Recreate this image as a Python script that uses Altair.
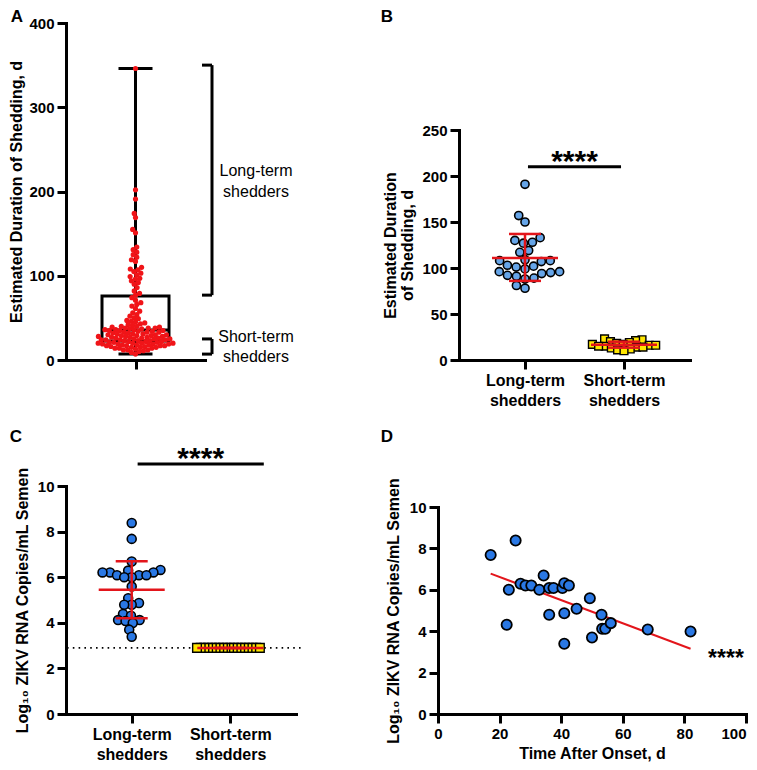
import math
import altair as alt
import pandas as pd

# ---------------- data ----------------
# Panel A: estimated duration of shedding (days), all men
A_DURATION = [346, 202, 191, 174, 169, 155, 151, 134, 131, 128, 125, 122, 119, 117,
              110, 108, 107, 105, 103, 101, 99, 97, 96, 94, 92, 90, 86, 82, 79, 77,
              74, 71, 68, 66, 64, 61, 58, 56, 54, 52, 50, 49, 47, 46, 45, 44, 43, 42,
              41, 40, 40, 39, 39, 38, 38, 38, 37, 37, 36, 36, 36,
              35, 35, 35, 34, 34, 33, 33, 33, 32, 32, 31, 31, 31, 30, 30, 30, 29, 29, 29,
              28, 28, 28, 27, 27, 27, 26, 26, 26, 25, 25, 25, 24, 24, 24, 24, 23, 23, 23,
              22, 22, 22, 21, 21, 21, 20, 20, 20, 20, 19, 19, 19, 19, 18, 18, 18, 17, 17,
              17, 17, 16, 16, 15, 15, 15, 14, 14, 14, 13, 12, 12, 12, 11, 10, 9, 7]
A_BOX = {"min": 7, "q1": 22.5, "median": 35.5, "q3": 76, "max": 346}
A_BRACKET_LABELS = [["Long-term", "shedders"], ["Short-term", "shedders"]]
A_BRACKET_LOW = [77, 7]
A_BRACKET_HIGH = [350, 25]
A_LABEL_Y = [[224, 200], [27, 3.5]]

# Panel B: duration by group
B_LONG = [191, 157, 150, 133, 130, 128, 127, 119, 117, 109, 108, 108, 107, 103,
          102, 101, 99, 96, 96, 95, 94, 92, 91, 89, 88, 81, 78]
B_SHORT = [23, 22, 21, 20, 19, 18, 17, 17, 16, 16, 15, 15, 14, 14, 13, 12, 11, 10]
B_MEAN = [111, 16.6]
B_SD_LOW = [86, 13.4]
B_SD_HIGH = [137, 19.9]
B_SIG = {"x1": 1.03, "x2": 1.97, "y": 210, "text": "****"}

# Panel C: log10 ZIKV RNA copies/mL semen by group
C_LONG = [8.38, 7.68, 6.69, 6.32, 6.29, 6.21, 6.21, 6.21, 6.09, 6.09, 6.09, 6.0, 6.0,
          5.59, 5.08, 4.87, 4.79, 4.79, 4.39, 4.31, 4.12, 4.12, 4.08, 3.99, 3.70, 3.39]
C_SHORT = [2.9] * 18
C_MEAN = [5.45, 2.9]
C_SD_LOW = [4.2, 2.9]
C_SD_HIGH = [6.7, 2.9]
C_LOD = 2.9
C_SIG = {"x1": 1.06, "x2": 2.34, "y": 10.97, "text": "****"}

# Panel D: viral load vs time after onset
D_TIME = [17.1, 25.2, 23.0, 22.3, 26.8, 28.4, 30.3, 32.9, 34.3, 36.1, 37.5, 36.1, 40.4,
          41.0, 42.5, 41.0, 41.0, 45.0, 49.3, 50.0, 53.1, 53.3, 54.3, 56.1, 68.1, 82.0]
D_LOAD = [7.68, 8.38, 6.00, 4.31, 6.29, 6.21, 6.21, 6.00, 6.69, 6.09, 6.09, 4.79, 6.09,
          6.32, 6.21, 4.87, 3.39, 5.08, 5.59, 3.70, 4.79, 4.12, 4.12, 4.39, 4.08, 3.99]
D_SIG = {"x": 93.5, "y": 2.3, "text": "****"}

CATEGORIES = ["Long-term shedders", "Short-term shedders"]

# ---------------- styling / layout ----------------
FONT = "Liberation Sans"
RED = "#f01418"
RED_LINE = "#e3151b"
BLUE_B = "#66a5e8"
BLUE_CD = "#2a78e4"
YELLOW = "#ffe600"

H1 = 337          # row 1 cell height
H2 = 228          # row 2 cell height
W1 = 230          # column 1 cell width
W2 = 308          # column 2 cell width
A_XR = [0, 139]
B_XR = [21, 252]
B_YR = [H1, 107]
C_XR = [0, W1]
D_YR = [H2, 21]

CAT_EXPR = "datum.value == 1 ? ['Long-term', 'shedders'] : ['Short-term', 'shedders']"


def swarm(values, ppu, d):
    """Deterministic beeswarm: horizontal pixel offsets so that dots do not overlap."""
    order = sorted(range(len(values)), key=lambda i: values[i])
    placed, out = [], [0.0] * len(values)
    for i in order:
        y = values[i] * ppu
        cands = [0.0]
        for px, py in placed:
            dy = abs(py - y)
            if dy < d:
                dx = math.sqrt(d * d - dy * dy)
                cands += [px + dx, px - dx]
        cands.sort(key=lambda c: (abs(c), c))
        for c in cands:
            if all((c - px) ** 2 + (y - py) ** 2 >= d * d - 1e-6 for px, py in placed):
                out[i] = c
                placed.append((c, y))
                break
    return out


def panel_label(letter, dx, dy):
    return alt.Chart(pd.DataFrame({"t": [letter]})).mark_text(
        font=FONT, fontSize=17, fontWeight="bold", align="center", baseline="middle", color="black"
    ).encode(x=alt.value(dx), y=alt.value(dy), text="t:N")


# ================= Panel A =================
a_ppx = (A_XR[1] - A_XR[0]) / 2.0
a_ppy = H1 / 400.0
sAx = alt.Scale(domain=[0, 2], range=A_XR, nice=False, zero=False)
sAy = alt.Scale(domain=[0, 400], range=[H1, 0], nice=False, zero=False)
axAx = alt.Axis(values=[1], labels=False, title=None)
axAy = alt.Axis(values=[0, 100, 200, 300, 400], title="Estimated Duration of Shedding, d",
                titlePadding=4)


def AX(f):
    return alt.X(f"{f}:Q", scale=sAx, axis=axAx)


def AY(f):
    return alt.Y(f"{f}:Q", scale=sAy, axis=axAy)


offs = swarm(A_DURATION, a_ppy, 4.4)
dfA = pd.DataFrame({"v": A_DURATION, "x": [1 + o / a_ppx for o in offs]})

bw = 33.5 / a_ppx
cw = 17 / a_ppx
box = pd.DataFrame([{"x": 1 - bw, "x2": 1 + bw, "y": A_BOX["q1"], "y2": A_BOX["q3"]}])
med = pd.DataFrame([{"x": 1 - bw, "x2": 1 + bw, "y": A_BOX["median"]}])
whisk = pd.DataFrame([{"x": 1, "y": A_BOX["q3"], "y2": A_BOX["max"]},
                      {"x": 1, "y": A_BOX["min"], "y2": A_BOX["q1"]}])
caps = pd.DataFrame([{"x": 1 - cw, "x2": 1 + cw, "y": A_BOX["max"]},
                     {"x": 1 - cw, "x2": 1 + cw, "y": A_BOX["min"]}])

br_x = 146 / a_ppx
br_tick = 136 / a_ppx
br_v = pd.DataFrame({"x": [br_x] * 2, "y": A_BRACKET_LOW, "y2": A_BRACKET_HIGH})
br_h = pd.DataFrame({"x": [br_tick] * 4, "x2": [br_x] * 4,
                     "y": A_BRACKET_LOW + A_BRACKET_HIGH})
txt_rows = []
for lines, ys in zip(A_BRACKET_LABELS, A_LABEL_Y):
    for line, yv in zip(lines, ys):
        txt_rows.append({"t": line, "x": 190 / a_ppx, "y": yv})
dfAtxt = pd.DataFrame(txt_rows)

A = alt.layer(
    alt.Chart(box).mark_rect(fillOpacity=0, stroke="black", strokeWidth=3).encode(
        x=AX("x"), x2="x2:Q", y=AY("y"), y2="y2:Q"),
    alt.Chart(med).mark_rule(color="black", strokeWidth=3).encode(x=AX("x"), x2="x2:Q", y=AY("y")),
    alt.Chart(whisk).mark_rule(color="black", strokeWidth=3).encode(x=AX("x"), y=AY("y"), y2="y2:Q"),
    alt.Chart(caps).mark_rule(color="black", strokeWidth=3).encode(x=AX("x"), x2="x2:Q", y=AY("y")),
    alt.Chart(dfA).mark_circle(color=RED, opacity=1, size=27).encode(x=AX("x"), y=AY("v")),
    alt.Chart(br_v).mark_rule(color="black", strokeWidth=3).encode(x=AX("x"), y=AY("y"), y2="y2:Q"),
    alt.Chart(br_h).mark_rule(color="black", strokeWidth=3).encode(x=AX("x"), x2="x2:Q", y=AY("y")),
    alt.Chart(dfAtxt).mark_text(font=FONT, fontSize=16, color="black", baseline="middle").encode(
        x=AX("x"), y=AY("y"), text="t:N"),
    panel_label("A", -49, -6),
).properties(width=W1, height=H1)


# ================= group panels helper =================
def group_panel(long_vals, short_vals, means, lows, highs, sig, dom_y, yr, xr, width, height,
                axis_y, dot_color, dot_size, d_long, d_short, sq_size, label, label_pos,
                lod=None):
    ppx = (xr[1] - xr[0]) / (7.0 / 3.0)
    ppy = (yr[0] - yr[1]) / float(dom_y[1] - dom_y[0])
    sx = alt.Scale(domain=[1.0 / 3.0, 8.0 / 3.0], range=xr, nice=False, zero=False)
    sy = alt.Scale(domain=dom_y, range=yr, nice=False, zero=False)
    axx = alt.Axis(values=[1, 2], labelExpr=CAT_EXPR, title=None, labelFontSize=16,
                   labelLineHeight=20, labelPadding=3)

    def GX(f):
        return alt.X(f"{f}:Q", scale=sx, axis=axx)

    def GY(f):
        return alt.Y(f"{f}:Q", scale=sy, axis=axis_y)

    lo = swarm(long_vals, ppy, d_long)
    so = swarm(short_vals, ppy, d_short)
    dl = pd.DataFrame({"v": long_vals, "x": [1 + o / ppx for o in lo]})
    ds = pd.DataFrame({"v": short_vals, "x": [2 + o / ppx for o in so]})

    mw = 33 / ppx
    cw2 = 16 / ppx
    g = [1, 2]
    mean_df = pd.DataFrame({"x": [c - mw for c in g], "x2": [c + mw for c in g], "y": means})
    sd_v = pd.DataFrame({"x": g, "y": lows, "y2": highs})
    sd_c = pd.DataFrame({"x": [c - cw2 for c in g] * 2, "x2": [c + cw2 for c in g] * 2,
                         "y": lows + highs})
    sig_line = pd.DataFrame([{"x": sig["x1"], "x2": sig["x2"], "y": sig["y"]}])
    sig_txt = pd.DataFrame([{"x": (sig["x1"] + sig["x2"]) / 2, "y": sig["y"], "t": sig["text"]}])

    layers = []
    if lod is not None:
        lod_df = pd.DataFrame([{"x": 1.0 / 3.0 + 1 / ppx, "x2": 1.0 / 3.0 + 235 / ppx, "y": lod}])
        layers.append(alt.Chart(lod_df).mark_rule(color="black", strokeWidth=1.6,
                                                  strokeDash=[1.6, 4.2]).encode(
            x=GX("x"), x2="x2:Q", y=GY("y")))
    layers += [
        alt.Chart(sig_line).mark_rule(color="black", strokeWidth=3).encode(x=GX("x"), x2="x2:Q", y=GY("y")),
        alt.Chart(sig_txt).mark_text(font=FONT, fontSize=30, fontWeight="bold", color="black",
                                     baseline="alphabetic", dy=4).encode(x=GX("x"), y=GY("y"), text="t:N"),
        alt.Chart(dl).mark_point(shape="circle", filled=True, fill=dot_color, stroke="black",
                                 strokeWidth=1.6, opacity=1, size=dot_size).encode(x=GX("x"), y=GY("v")),
        alt.Chart(ds).mark_point(shape="square", filled=True, fill=YELLOW, stroke="black",
                                 strokeWidth=1.4, opacity=1, size=sq_size).encode(x=GX("x"), y=GY("v")),
        alt.Chart(mean_df).mark_rule(color=RED_LINE, strokeWidth=2.5).encode(x=GX("x"), x2="x2:Q", y=GY("y")),
        alt.Chart(sd_v).mark_rule(color=RED_LINE, strokeWidth=2.5).encode(x=GX("x"), y=GY("y"), y2="y2:Q"),
        alt.Chart(sd_c).mark_rule(color=RED_LINE, strokeWidth=2.5).encode(x=GX("x"), x2="x2:Q", y=GY("y")),
        panel_label(label, label_pos[0], label_pos[1]),
    ]
    return alt.layer(*layers).properties(width=width, height=height)


axBy = alt.Axis(values=[0, 50, 100, 150, 200, 250], title=["Estimated Duration", "of Shedding, d"],
                offset=-21, titlePadding=6, titleLineHeight=17)
B = group_panel(B_LONG, B_SHORT, B_MEAN, B_SD_LOW, B_SD_HIGH, B_SIG, [0, 250], B_YR, B_XR, W2, H1,
                axBy, BLUE_B, 66, 9.0, 6.5, 60, "B", (-51, -6))

axCy = alt.Axis(values=[0, 2, 4, 6, 8, 10], title="Log\u2081\u2080 ZIKV RNA Copies/mL Semen",
                titlePadding=7)
C = group_panel(C_LONG, C_SHORT, C_MEAN, C_SD_LOW, C_SD_HIGH, C_SIG, [0, 10], [H2, 0], C_XR, W1, H2,
                axCy, BLUE_CD, 80, 7.5, 3.7, 75, "C", (-50, -49), lod=C_LOD)

# ================= Panel D =================
sDx = alt.Scale(domain=[0, 100], range=[0, W2], nice=False, zero=False)
sDy = alt.Scale(domain=[0, 10], range=D_YR, nice=False, zero=False)
axDx = alt.Axis(values=[0, 20, 40, 60, 80, 100], title="Time After Onset, d", titlePadding=4,
                labelAlign={"condition": {"test": "datum.value == 100", "value": "right"},
                            "value": "center"})
axDy = alt.Axis(values=[0, 2, 4, 6, 8, 10], title="Log\u2081\u2080 ZIKV RNA Copies/mL Semen",
                titlePadding=8)
dfD = pd.DataFrame({"t": D_TIME, "v": D_LOAD})
dfDsig = pd.DataFrame([D_SIG])


def DX(f):
    return alt.X(f"{f}:Q", scale=sDx, axis=axDx)


def DY(f):
    return alt.Y(f"{f}:Q", scale=sDy, axis=axDy)


D = alt.layer(
    alt.Chart(dfD).mark_line(color=RED_LINE, strokeWidth=2).transform_regression("t", "v").encode(
        x=DX("t"), y=DY("v")),
    alt.Chart(dfD).mark_point(shape="circle", filled=True, fill=BLUE_CD, stroke="black",
                              strokeWidth=1.8, opacity=1, size=105).encode(x=DX("t"), y=DY("v")),
    alt.Chart(dfDsig).mark_text(font=FONT, fontSize=23, fontWeight="bold", color="black",
                                baseline="alphabetic").encode(x=DX("x"), y=DY("y"), text="text:N"),
    panel_label("D", -51, -49),
).properties(width=W2, height=H2)

chart = alt.concat(A, B, C, D, columns=2, spacing={"row": 126, "column": 142},
                   bounds="flush", align="each").properties(padding=0).configure(
    font=FONT
).configure_view(stroke=None).configure_axis(
    grid=False, domainColor="black", domainWidth=3, domainCap="square",
    tickColor="black", tickWidth=3, tickSize=9, labelFont=FONT, labelFontWeight="bold",
    labelFontSize=15, labelColor="black", labelPadding=3, titleFont=FONT, titleFontSize=16,
    titleFontWeight="bold", titleColor="black")

chart.save("out.html", embed_options={"renderer": "svg", "actions": False})
